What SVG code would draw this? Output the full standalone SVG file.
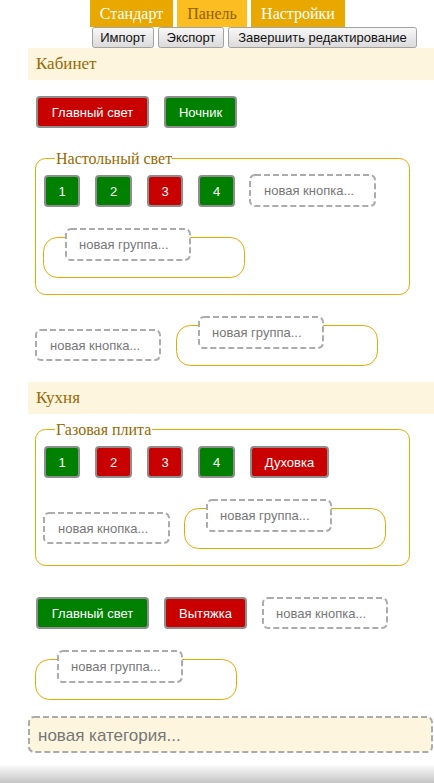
<svg xmlns="http://www.w3.org/2000/svg" width="434" height="783" viewBox="0 0 434 783">
<defs>
<linearGradient id="gbtn" x1="0" y1="0" x2="0" y2="1"><stop offset="0" stop-color="#f8f8f8"/><stop offset="1" stop-color="#dadada"/></linearGradient>
<linearGradient id="gshadow" x1="0" y1="0" x2="0" y2="1"><stop offset="0" stop-color="#ffffff"/><stop offset="1" stop-color="#c4c4c4"/></linearGradient>
<style>
text{font-family:"Liberation Sans",Arial,sans-serif}
.serif{font-family:"Liberation Serif","Times New Roman",serif}
.tabd{fill:#e9a800}
.tabl{fill:#fcbd20}
.tabt{font-size:16px;fill:#ffffff;text-anchor:middle}
.tabtl{font-size:16px;fill:#8e6100;text-anchor:middle}
.tool{fill:url(#gbtn);stroke:#a2a2a2;stroke-width:1}
.toolt{font-size:13px;fill:#111;text-anchor:middle}
.band{fill:#fef5df}
.cat{font-size:17px;fill:#9a6800}
.leg{font-size:16px;fill:#9a6800}
.red{fill:#c80000;stroke:#8e8e8e;stroke-width:2}
.green{fill:#008000;stroke:#8e8e8e;stroke-width:2}
.bt{font-size:13px;fill:#ffffff;text-anchor:middle}
.dash{fill:#ffffff;stroke:#ababab;stroke-width:2;stroke-dasharray:6 3}
.dt{font-size:13px;fill:#777777}
.frame{fill:none;stroke:#e9a800;stroke-width:1}
</style>
</defs>
<rect width="434" height="783" fill="#ffffff"/>

<g id="tabs">
<rect class="tabd" x="90" y="0" width="83" height="27"/>
<text class="serif tabt" x="131.5" y="19">Стандарт</text>
<rect class="tabl" x="177" y="0" width="70" height="27"/>
<text class="serif tabtl" x="212" y="19">Панель</text>
<rect class="tabd" x="251" y="0" width="94" height="27"/>
<text class="serif tabt" x="298" y="19">Настройки</text>
</g>

<g id="toolbar">
<rect class="tool" x="92.5" y="27.5" width="61" height="20" rx="2"/>
<text class="toolt" x="123" y="42">Импорт</text>
<rect class="tool" x="158.5" y="27.5" width="65" height="20" rx="2"/>
<text class="toolt" x="191" y="42">Экспорт</text>
<rect class="tool" x="228.5" y="27.5" width="188" height="20" rx="2"/>
<text class="toolt" x="322.5" y="42">Завершить редактирование</text>
</g>

<g id="cat-kabinet">
<rect class="band" x="28" y="48" width="406" height="32"/>
<text class="serif cat" x="36" y="69">Кабинет</text>
</g>

<g id="btn-glavny-svet-1">
<rect class="red" x="37" y="97" width="111" height="30" rx="3"/>
<text class="bt" x="92.5" y="116.5">Главный свет</text>
</g>
<g id="btn-nochnik">
<rect class="green" x="165" y="97" width="71" height="30" rx="3"/>
<text class="bt" x="200.5" y="116.5">Ночник</text>
</g>

<g id="group-nastolny">
<path class="frame" d="M55,158.5 H45.5 A10,10 0 0 0 35.5,168.5 V284.5 A10,10 0 0 0 45.5,294.5 H399.5 A10,10 0 0 0 409.5,284.5 V168.5 A10,10 0 0 0 399.5,158.5 H172"/>
<text class="serif leg" x="56" y="164">Настольный свет</text>
<rect class="green" x="45" y="176" width="34" height="30" rx="3"/>
<text class="bt" x="62" y="195.5">1</text>
<rect class="green" x="96" y="176" width="35" height="30" rx="3"/>
<text class="bt" x="113.5" y="195.5">2</text>
<rect class="red" x="148" y="176" width="34" height="30" rx="3"/>
<text class="bt" x="165" y="195.5">3</text>
<rect class="green" x="199" y="176" width="35" height="30" rx="3"/>
<text class="bt" x="216.5" y="195.5">4</text>
<rect class="dash" x="250" y="175" width="125" height="31" rx="5"/>
<text class="dt" x="264" y="195">новая кнопка...</text>
<rect class="frame" x="43.5" y="237.5" width="201" height="40" rx="14"/>
<rect class="dash" x="66" y="229" width="124" height="31" rx="5"/>
<text class="dt" x="79" y="249">новая группа...</text>
</g>

<g id="new-btn-kabinet">
<rect class="dash" x="36" y="330" width="124" height="30" rx="5"/>
<text class="dt" x="50" y="350">новая кнопка...</text>
</g>
<g id="new-group-kabinet">
<rect class="frame" x="176.5" y="325.5" width="201" height="40" rx="14"/>
<rect class="dash" x="199" y="317" width="124" height="31" rx="5"/>
<text class="dt" x="212" y="337">новая группа...</text>
</g>

<g id="cat-kuhnya">
<rect class="band" x="28" y="382" width="406" height="32"/>
<text class="serif cat" x="36" y="403">Кухня</text>
</g>

<g id="group-gazovaya">
<path class="frame" d="M55,429.5 H45.5 A10,10 0 0 0 35.5,439.5 V555.5 A10,10 0 0 0 45.5,565.5 H399.5 A10,10 0 0 0 409.5,555.5 V439.5 A10,10 0 0 0 399.5,429.5 H152"/>
<text class="serif leg" x="56" y="435">Газовая плита</text>
<rect class="green" x="45" y="447" width="34" height="30" rx="3"/>
<text class="bt" x="62" y="466.5">1</text>
<rect class="red" x="96" y="447" width="35" height="30" rx="3"/>
<text class="bt" x="113.5" y="466.5">2</text>
<rect class="red" x="148" y="447" width="34" height="30" rx="3"/>
<text class="bt" x="165" y="466.5">3</text>
<rect class="green" x="199" y="447" width="35" height="30" rx="3"/>
<text class="bt" x="216.5" y="466.5">4</text>
<rect class="red" x="251" y="447" width="77" height="30" rx="3"/>
<text class="bt" x="289.5" y="466.5">Духовка</text>
<rect class="dash" x="44" y="513" width="125" height="30" rx="5"/>
<text class="dt" x="58" y="533">новая кнопка...</text>
<rect class="frame" x="184.5" y="508.5" width="201" height="40" rx="14"/>
<rect class="dash" x="207" y="500" width="124" height="31" rx="5"/>
<text class="dt" x="220" y="520">новая группа...</text>
</g>

<g id="btn-glavny-svet-2">
<rect class="green" x="37" y="598" width="111" height="30" rx="3"/>
<text class="bt" x="92.5" y="617.5">Главный свет</text>
</g>
<g id="btn-vytyazhka">
<rect class="red" x="165" y="598" width="81" height="30" rx="3"/>
<text class="bt" x="205.5" y="617.5">Вытяжка</text>
</g>
<g id="new-btn-kuhnya">
<rect class="dash" x="263" y="598" width="124" height="30" rx="5"/>
<text class="dt" x="276" y="618">новая кнопка...</text>
</g>
<g id="new-group-kuhnya">
<rect class="frame" x="35.5" y="659.5" width="201" height="40" rx="14"/>
<rect class="dash" x="58" y="651" width="124" height="31" rx="5"/>
<text class="dt" x="71" y="671">новая группа...</text>
</g>

<g id="new-category">
<rect class="dash" x="29" y="717" width="403" height="35" rx="5" style="fill:#fef5df"/>
<text x="38" y="741" style="font-size:17px;fill:#777777">новая категория...</text>
</g>

<rect x="0" y="764" width="434" height="19" fill="url(#gshadow)"/>
</svg>
